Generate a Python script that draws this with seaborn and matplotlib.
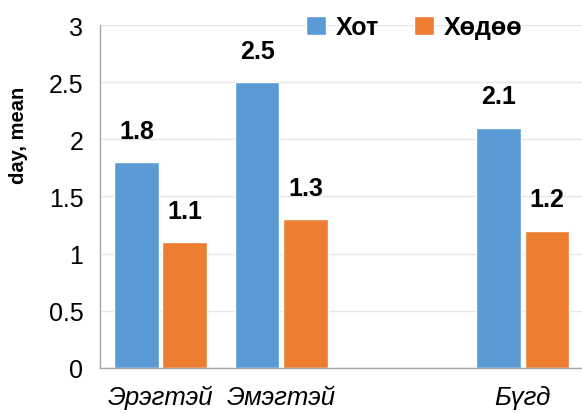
import numpy as np
import pandas as pd
import matplotlib
matplotlib.use("Agg")
import matplotlib.pyplot as plt
import seaborn as sns

# chart values
categories = ["Эрэгтэй", "Эмэгтэй", " ", "Бүгд"]
series_names = ["Хот", "Хөдөө"]
hot_values = [1.8, 2.5, np.nan, 2.1]
hodoo_values = [1.1, 1.3, np.nan, 1.2]
colors = ["#5B9BD5", "#ED7D31"]

df = pd.DataFrame({
    "group": categories * 2,
    "series": [series_names[0]] * 4 + [series_names[1]] * 4,
    "value": hot_values + hodoo_values,
})

sns.set_style("white")
plt.rcParams["font.family"] = ["Liberation Sans", "DejaVu Sans"]
plt.rcParams["text.color"] = "black"
plt.rcParams["xtick.labelcolor"] = "black"
plt.rcParams["ytick.labelcolor"] = "black"
plt.rcParams["axes.labelcolor"] = "black"

fig = plt.figure(figsize=(5.82, 4.14), dpi=100)
ax = fig.add_axes([0.172, 0.109, 0.83, 0.828])

sns.barplot(data=df, x="group", y="value", hue="series", order=categories,
            hue_order=series_names, palette=colors, width=0.8, gap=0.08,
            saturation=1, errorbar=None, ax=ax)

for cont in ax.containers:
    labels = ["" if np.isnan(v) else f"{v:.1f}" for v in cont.datavalues]
    ax.bar_label(cont, labels=labels, padding=14, fontsize=18, fontweight="bold",
                 color="black")

ax.set_ylim(0, 3)
ax.set_yticks([0, 0.5, 1, 1.5, 2, 2.5, 3])
ax.set_yticklabels(["0", "0.5", "1", "1.5", "2", "2.5", "3"], fontsize=18)
ax.yaxis.grid(True, color="#E6E6E6", linewidth=1)
ax.set_axisbelow(True)

# category boundaries as ticks, labels at centers
ax.set_xlim(-0.5, 3.5)
ax.set_xticks([-0.5, 0.5, 1.5, 2.5])
ax.set_xticklabels([])
ax.set_xticks(range(4), minor=True)
ax.set_xticklabels(categories, minor=True, fontsize=18.5, style="italic")
ax.tick_params(axis="x", which="minor", length=0, pad=12)
ax.tick_params(axis="x", which="major", length=6, color="#A6A6A6", width=1)
ax.tick_params(axis="y", length=6, color="#A6A6A6", width=1, pad=6)

for side in ["top", "right"]:
    ax.spines[side].set_visible(False)
for side in ["left", "bottom"]:
    ax.spines[side].set_color("#A6A6A6")
    ax.spines[side].set_linewidth(1)

ax.set_xlabel("")
ax.set_ylabel("day, mean", fontsize=14.5, fontweight="bold")
ax.yaxis.set_label_coords(-0.15, 0.68)

ax.legend(loc="center", bbox_to_anchor=(0.65, 0.995), ncol=2, frameon=False,
          handlelength=0.8, handleheight=0.8, handletextpad=0.4,
          columnspacing=1.4, prop={"size": 18, "weight": "bold"})

fig.savefig("out.png", dpi=100)
